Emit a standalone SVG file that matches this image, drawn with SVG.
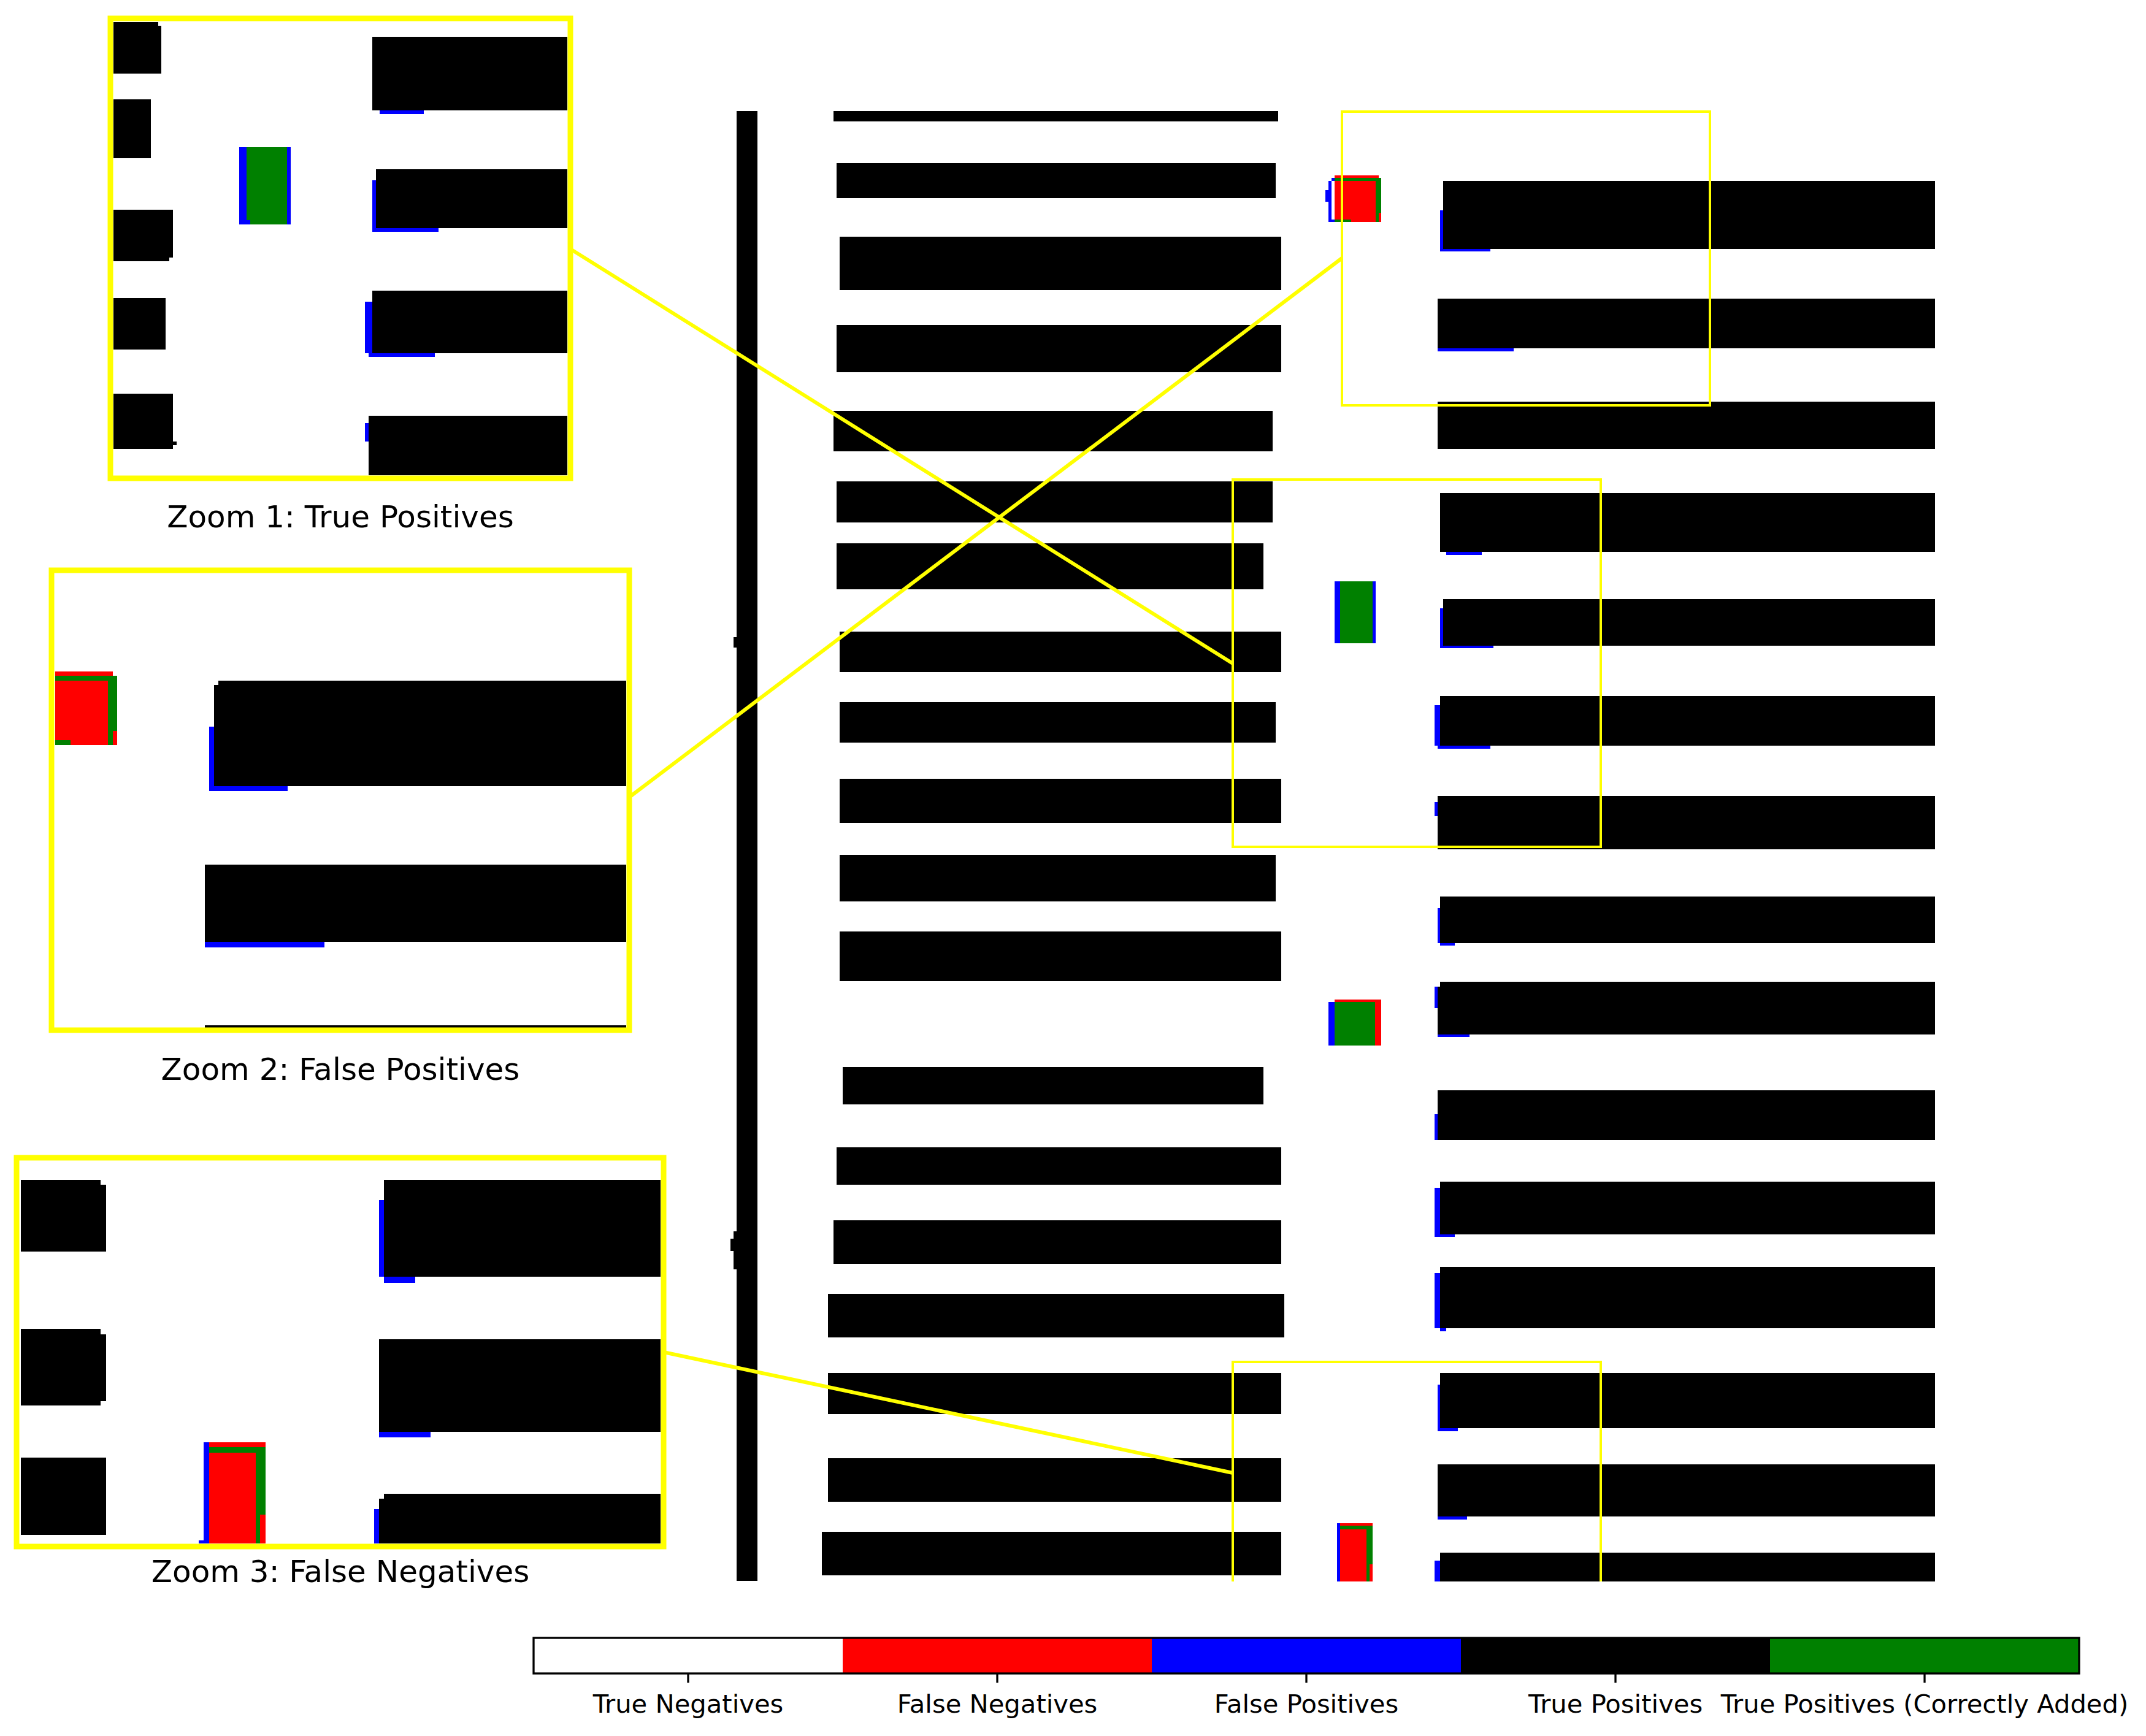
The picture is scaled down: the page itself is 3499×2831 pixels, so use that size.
<svg xmlns="http://www.w3.org/2000/svg" width="3499" height="2831" viewBox="0 0 3499 2831">
<style>
.k{fill:#000}.b{fill:#0000ff}.r{fill:#ff0000}.g{fill:#008000}
.zb{fill:none;stroke:#ffff00;stroke-width:9}
.mk{fill:none;stroke:#ffff00;stroke-width:4}
.cn{fill:none;stroke:#ffff00;stroke-width:6}
.lbl{font-family:"DejaVu Sans","Liberation Sans",sans-serif;font-size:50px;fill:#000;text-anchor:middle}
.tl{font-family:"DejaVu Sans","Liberation Sans",sans-serif;font-size:41.7px;fill:#000;text-anchor:middle}
.tk{stroke:#000;stroke-width:3.3}
</style>
<rect width="3499" height="2831" fill="#fff"/>
<g id="main-map">
<rect class="k" x="1201" y="181" width="34" height="2397"/>
<rect class="k" x="1196" y="1039" width="5" height="17"/>
<rect class="k" x="1196" y="2008" width="5" height="62"/>
<rect class="k" x="1191" y="2020" width="5" height="20"/>
<rect class="k" x="1359" y="181" width="725" height="17"/>
<rect class="k" x="1364" y="266" width="716" height="57"/>
<rect class="k" x="1369" y="386" width="720" height="87"/>
<rect class="k" x="1364" y="530" width="725" height="77"/>
<rect class="k" x="1359" y="670" width="716" height="66"/>
<rect class="k" x="1364" y="785" width="711" height="67"/>
<rect class="k" x="1364" y="886" width="696" height="75"/>
<rect class="k" x="1369" y="1030" width="720" height="66"/>
<rect class="k" x="1369" y="1145" width="711" height="66"/>
<rect class="k" x="1369" y="1270" width="720" height="72"/>
<rect class="k" x="1369" y="1394" width="711" height="76"/>
<rect class="k" x="1369" y="1519" width="720" height="81"/>
<rect class="k" x="1374" y="1740" width="686" height="61"/>
<rect class="k" x="1364" y="1871" width="725" height="61"/>
<rect class="k" x="1359" y="1990" width="730" height="71"/>
<rect class="k" x="1350" y="2110" width="744" height="71"/>
<rect class="k" x="1350" y="2239" width="739" height="67"/>
<rect class="k" x="1350" y="2378" width="739" height="71"/>
<rect class="k" x="1340" y="2498" width="749" height="71"/>
<rect class="b" x="2348" y="343" width="5" height="67"/><rect class="b" x="2348" y="404" width="82" height="6"/>
<rect class="k" x="2353" y="295" width="802" height="111"/>
<rect class="b" x="2344" y="566" width="124" height="7"/>
<rect class="k" x="2344" y="487" width="811" height="81"/>
<rect class="k" x="2344" y="655" width="811" height="77"/>
<rect class="b" x="2358" y="898" width="58" height="7"/>
<rect class="k" x="2348" y="804" width="807" height="96"/>
<rect class="b" x="2348" y="992" width="5" height="65"/><rect class="b" x="2348" y="1051" width="87" height="6"/>
<rect class="k" x="2353" y="977" width="802" height="76"/>
<rect class="b" x="2339" y="1150" width="9" height="66"/><rect class="b" x="2344" y="1214" width="86" height="7"/>
<rect class="k" x="2348" y="1135" width="807" height="81"/>
<rect class="b" x="2339" y="1308" width="5" height="23"/>
<rect class="k" x="2344" y="1298" width="811" height="87"/>
<rect class="b" x="2344" y="1481" width="4" height="57"/><rect class="b" x="2348" y="1536" width="24" height="6"/>
<rect class="k" x="2348" y="1462" width="807" height="76"/>
<rect class="b" x="2339" y="1609" width="5" height="35"/><rect class="b" x="2344" y="1685" width="52" height="6"/>
<rect class="k" x="2348" y="1601" width="807" height="86"/><rect class="k" x="2344" y="1609" width="4" height="78"/>
<rect class="b" x="2339" y="1817" width="5" height="42"/>
<rect class="k" x="2344" y="1778" width="811" height="81"/>
<rect class="b" x="2339" y="1937" width="9" height="80"/><rect class="b" x="2344" y="2011" width="28" height="6"/>
<rect class="k" x="2348" y="1927" width="807" height="86"/>
<rect class="b" x="2339" y="2076" width="9" height="90"/><rect class="b" x="2348" y="2164" width="10" height="7"/>
<rect class="k" x="2348" y="2066" width="807" height="100"/>
<rect class="b" x="2344" y="2258" width="4" height="76"/><rect class="b" x="2348" y="2327" width="29" height="7"/>
<rect class="k" x="2348" y="2239" width="807" height="90"/>
<rect class="b" x="2344" y="2471" width="48" height="7"/>
<rect class="k" x="2344" y="2388" width="811" height="85"/>
<rect class="b" x="2339" y="2545" width="9" height="34"/>
<rect class="k" x="2348" y="2532" width="807" height="47"/>
<rect class="b" x="2166" y="295" width="5" height="67"/><rect class="b" x="2171" y="290" width="5" height="5"/><rect class="b" x="2161" y="310" width="5" height="19"/><rect class="b" x="2166" y="358" width="10" height="4"/>
<rect class="r" x="2176" y="286" width="72" height="76"/><rect class="r" x="2248" y="347" width="4" height="15"/>
<rect class="g" x="2176" y="290" width="76" height="5"/><rect class="g" x="2243" y="290" width="9" height="57"/><rect class="g" x="2243" y="347" width="5" height="15"/><rect class="g" x="2176" y="358" width="27" height="4"/>
<rect class="b" x="2176" y="948" width="67" height="101"/>
<rect class="g" x="2185" y="948" width="53" height="101"/>
<rect class="r" x="2176" y="1630" width="76" height="75"/>
<rect class="b" x="2166" y="1634" width="10" height="71"/>
<rect class="g" x="2176" y="1634" width="66" height="71"/>
<rect class="b" x="2180" y="2484" width="5" height="95"/>
<rect class="r" x="2185" y="2484" width="53" height="95"/>
<rect class="g" x="2185" y="2488" width="53" height="6"/><rect class="g" x="2228" y="2488" width="10" height="63"/><rect class="g" x="2228" y="2551" width="5" height="28"/>
</g>
<g id="connectors">
<line class="cn" x1="930" y1="406" x2="2010" y2="1082"/>
<line class="cn" x1="1026" y1="1300" x2="2188" y2="421"/>
<line class="cn" x1="1082" y1="2205" x2="2010" y2="2402"/>
</g>
<g id="inset-marks">
<rect class="mk" x="2188" y="182" width="600" height="479"/>
<rect class="mk" x="2010" y="782" width="600" height="599"/>
<path class="mk" d="M2010,2579 V2221 H2610 V2579"/>
</g>
<g id="zoom1">
<rect class="k" x="185" y="36" width="73" height="6"/><rect class="k" x="185" y="42" width="78" height="78"/>
<rect class="k" x="185" y="162" width="61" height="96"/>
<rect class="k" x="185" y="342" width="97" height="78"/><rect class="k" x="185" y="420" width="91" height="6"/>
<rect class="k" x="185" y="486" width="85" height="84"/>
<rect class="k" x="185" y="642" width="97" height="90"/><rect class="k" x="282" y="720" width="6" height="6"/>
<rect class="b" x="390" y="240" width="84" height="126"/>
<rect class="g" x="402" y="240" width="66" height="119"/><rect class="g" x="408" y="359" width="60" height="7"/>
<rect class="b" x="619" y="176" width="72" height="10"/>
<rect class="k" x="607" y="60" width="318" height="120"/>
<rect class="b" x="607" y="294" width="6" height="84"/><rect class="b" x="607" y="370" width="108" height="8"/>
<rect class="k" x="613" y="276" width="312" height="96"/>
<rect class="b" x="595" y="492" width="12" height="84"/><rect class="b" x="601" y="574" width="108" height="8"/>
<rect class="k" x="607" y="474" width="318" height="102"/>
<rect class="b" x="595" y="690" width="6" height="30"/>
<rect class="k" x="601" y="678" width="324" height="97"/>
<rect class="zb" x="180" y="30" width="750" height="750"/>
<text class="lbl" x="555" y="860">Zoom 1: True Positives</text>
</g>
<g id="zoom2">
<rect class="r" x="90" y="1095" width="94" height="7"/><rect class="r" x="90" y="1102" width="101" height="113"/>
<rect class="g" x="90" y="1102" width="101" height="8"/><rect class="g" x="176" y="1102" width="15" height="90"/><rect class="g" x="176" y="1192" width="8" height="23"/><rect class="g" x="90" y="1207" width="25" height="8"/>
<rect class="b" x="341" y="1185" width="8" height="105"/><rect class="b" x="341" y="1282" width="128" height="8"/>
<rect class="k" x="356" y="1110" width="665" height="7"/><rect class="k" x="349" y="1117" width="672" height="165"/>
<rect class="b" x="334" y="1536" width="195" height="9"/>
<rect class="k" x="334" y="1410" width="687" height="126"/>
<rect class="k" x="334" y="1672" width="687" height="4"/>
<rect class="zb" x="84" y="930" width="942" height="750"/>
<text class="lbl" x="555" y="1761">Zoom 2: False Positives</text>
</g>
<g id="zoom3">
<rect class="k" x="34" y="1924" width="130" height="117"/><rect class="k" x="164" y="1932" width="9" height="109"/>
<rect class="k" x="34" y="2167" width="130" height="125"/><rect class="k" x="164" y="2176" width="9" height="109"/>
<rect class="k" x="34" y="2377" width="139" height="126"/>
<rect class="b" x="618" y="1957" width="8" height="125"/><rect class="b" x="626" y="2082" width="51" height="10"/>
<rect class="k" x="626" y="1924" width="451" height="158"/>
<rect class="b" x="618" y="2335" width="84" height="9"/>
<rect class="k" x="618" y="2184" width="459" height="151"/>
<rect class="b" x="610" y="2461" width="8" height="56"/>
<rect class="k" x="626" y="2436" width="451" height="81"/><rect class="k" x="618" y="2444" width="8" height="73"/>
<rect class="b" x="332" y="2352" width="9" height="165"/><rect class="b" x="324" y="2512" width="8" height="5"/>
<rect class="r" x="341" y="2352" width="92" height="165"/>
<rect class="g" x="341" y="2360" width="92" height="9"/><rect class="g" x="417" y="2360" width="16" height="110"/><rect class="g" x="417" y="2470" width="7" height="47"/>
<rect class="zb" x="27" y="1888" width="1055" height="634"/>
<text class="lbl" x="555" y="2580">Zoom 3: False Negatives</text>
</g>
<g id="legend">
<rect x="870" y="2671" width="504" height="58" fill="#fff"/>
<rect x="1374" y="2671" width="504" height="58" fill="#ff0000"/>
<rect x="1878" y="2671" width="504" height="58" fill="#0000ff"/>
<rect x="2382" y="2671" width="504" height="58" fill="#000"/>
<rect x="2886" y="2671" width="504" height="58" fill="#008000"/>
<rect x="870" y="2671" width="2520" height="58" fill="none" stroke="#000" stroke-width="3.3"/>
<line class="tk" x1="1122" y1="2729" x2="1122" y2="2744"/>
<line class="tk" x1="1626" y1="2729" x2="1626" y2="2744"/>
<line class="tk" x1="2130" y1="2729" x2="2130" y2="2744"/>
<line class="tk" x1="2634" y1="2729" x2="2634" y2="2744"/>
<line class="tk" x1="3138" y1="2729" x2="3138" y2="2744"/>
<text class="tl" x="1122" y="2793">True Negatives</text>
<text class="tl" x="1626" y="2793">False Negatives</text>
<text class="tl" x="2130" y="2793">False Positives</text>
<text class="tl" x="2634" y="2793">True Positives</text>
<text class="tl" x="3138" y="2793">True Positives (Correctly Added)</text>
</g>
</svg>
